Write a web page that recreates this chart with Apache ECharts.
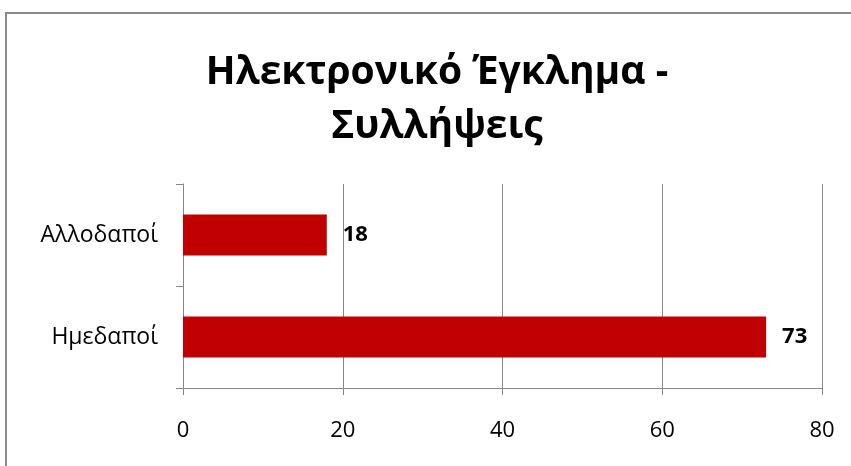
<!DOCTYPE html>
<html>
<head>
<meta charset="utf-8">
<script src="https://cdn.jsdelivr.net/npm/echarts@6/dist/echarts.min.js"></script>
<style>
html,body{margin:0;padding:0;background:#fff;}
#c{width:851px;height:466px;}
</style>
</head>
<body>
<div id="c"></div>
<script>
const titleLines = ['Ηλεκτρονικό Έγκλημα -', 'Συλλήψεις'];
const categories = ['Ημεδαποί', 'Αλλοδαποί'];
const values = [73, 18];
const xTicks = { min: 0, max: 80, interval: 20 };

const chart = echarts.init(document.getElementById('c'), null, { renderer: 'canvas' });
const font = '"Open Sans", "Noto Sans", sans-serif';
chart.setOption({
  animation: false,
  backgroundColor: '#fff',
  graphic: [
    { type: 'rect', shape: { x: 6, y: 13, width: 900, height: 500 }, style: { fill: 'none', stroke: '#8a8a8a', lineWidth: 2 }, silent: true },
    { type: 'text', x: 437, y: 100, style: { text: titleLines.join('\n'), font: 'bold 39px ' + font, fill: '#000', align: 'center', verticalAlign: 'middle', lineHeight: 54 } }
  ],
  grid: { left: 183, right: 29, top: 184, bottom: 78, containLabel: false },
  xAxis: {
    type: 'value', min: xTicks.min, max: xTicks.max, interval: xTicks.interval,
    axisLine: { show: true, lineStyle: { color: '#878787', width: 1 } },
    axisTick: { show: true, length: 7, lineStyle: { color: '#878787' } },
    splitLine: { show: true, lineStyle: { color: '#878787', width: 1 } },
    axisLabel: { color: '#000', fontFamily: font, fontSize: 22, margin: 32 }
  },
  yAxis: {
    type: 'category', data: categories,
    axisLine: { show: true, lineStyle: { color: '#878787', width: 1 } },
    axisTick: { show: true, length: 7, lineStyle: { color: '#878787' } },
    axisLabel: { color: '#000', fontFamily: font, fontSize: 23, margin: 25, padding: [8, 0, 0, 0] }
  },
  series: [{
    type: 'bar', data: values, barWidth: 41,
    itemStyle: { color: '#C00000' },
    label: { show: true, position: 'right', distance: 16, color: '#000', fontFamily: font, fontWeight: 'bold', fontSize: 22, padding: [9, 0, 0, 0] }
  }]
});
</script>
</body>
</html>
